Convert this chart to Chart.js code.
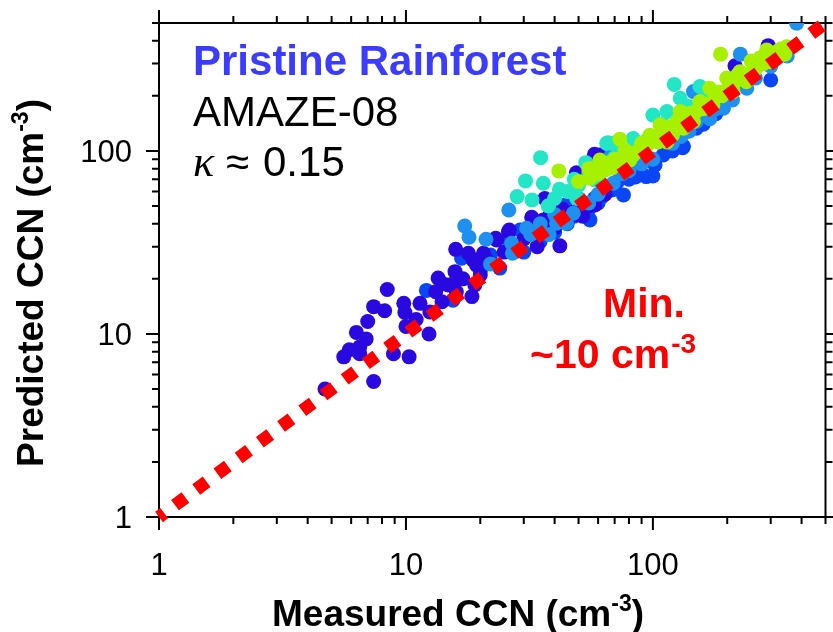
<!DOCTYPE html>
<html>
<head>
<meta charset="utf-8">
<script src="https://cdn.jsdelivr.net/npm/chart.js@4.4.1/dist/chart.umd.min.js"></script>
<style>
  html, body { margin: 0; padding: 0; background: #fff; }
  #wrap { width: 833px; height: 632px; }
</style>
</head>
<body>
<div id="wrap"><canvas id="myChart" width="833" height="632"></canvas></div>
<script>
// measured vs predicted CCN, one array per colour group  [measured, predicted]
const indigoPts = [[8.4,17.5],[7.4,14.1],[8.2,13.4],[9.8,14.7],[9.9,13.1],[11.4,14.7],[12.5,13.2],[7.0,11.7],[6.3,10.2],[6.9,9.4],[6.5,8.5],[5.9,8.2],[5.6,7.5],[6.5,7.8],[8.9,7.8],[10.3,7.5],[12.4,10.0],[7.4,5.5],[4.7,5.0],[13.5,20.2],[14.0,18.9],[14.8,18.5],[15.8,21.9],[16.0,19.7],[18.5,16.0],[15.9,29.0],[17.9,27.6],[18.7,25.4],[19.3,23.8],[20.6,27.6],[21.2,25.4],[19.0,18.5],[23.3,32.6],[26.0,36.2],[58,96],[49,76],[36.5,55],[26.2,37],[23.1,33.3],[42,30.3],[32.3,43.4],[215,292],[293,376],[61,95],[13.2,17.0],[38.3,44.7],[58.2,50.7],[47,46],[52,44],[55,50],[45,42],[40,38],[43,48],[50,45],[36,42],[30,33],[34,30],[25,28],[64,58],[20,21],[17,20],[14,15],[16,17],[11,12],[10,11]];
const bluePts = [[12.1,17.3],[15.5,15.3],[16.8,25.9],[24,22.9],[34.9,31.9],[29,37],[33.3,39.4],[44,50.7],[52.1,47.6],[55.6,42],[68.2,61.2],[76,57.5],[94,72.4],[88.6,78.7],[102,83.8],[132,104],[150,133],[300,244],[50,48],[60,52],[100,73],[133,106],[90,75],[30,28],[35,33],[40,36],[38,40],[45,40],[48,44],[55,48],[58,55],[62,56],[65,60],[70,62],[72,68],[80,70],[85,72],[110,95],[120,100],[160,140],[180,160],[28,30],[26,33],[20,22],[22,27]];
const lightBluePts = [[17.3,38.9],[18,33.8],[21.1,32.9],[22,24.1],[26.8,31.3],[27,27.6],[26.1,47.6],[30.8,37.8],[69.1,66.6],[68.1,97.1],[40.7,40.3],[44.7,40.3],[47.6,45.7],[226,338],[382,499],[193,171],[165,157],[146,211],[88.6,95.1],[107,115],[189,175],[120,110],[140,128],[170,150],[210,190],[100,90],[35,40],[40,45],[50,55],[55,52],[60,58],[75,75],[80,78],[90,85],[130,120],[150,145],[180,170],[240,220],[260,250],[300,290],[350,330],[32,35],[38,35]];
const cyanPts = [[35.1,91.9],[30.5,68.6],[36,66.6],[28.2,56.3],[41.8,61.8],[53.5,86.3],[37.7,50.1],[65.9,111],[49.1,55.2],[122,231],[65,110],[83.2,117],[100,157],[114,164],[129,194],[155,225],[67,87.4],[58.2,69.5],[73.5,83.8],[32.4,54],[62,80],[70,92],[78,100],[90,105],[69,110],[45,60],[50,65],[55,75],[60,72],[75,95],[85,100],[95,115],[105,120],[110,140],[140,175],[160,190],[40,55],[48,70]];
const greenPts = [[41.6,77.8],[73.5,116],[55.6,71],[63.9,78.7],[188,338],[289,356],[348,371],[342,338],[298,307],[77.1,101],[88.6,103],[107,139],[129,164],[155,186],[170,220],[199,250],[225,271],[255,295],[114,112],[146,145],[175,178],[211,211],[239,239],[97.2,122],[83.2,95.1],[133,133],[61,89.3],[68.2,80.7],[80.7,89.3],[271,322],[178,202],[120,125],[160,170],[190,200],[230,250],[260,280],[300,330],[320,350],[90,110],[110,128],[140,160],[120,122],[50,68],[55,80],[60,75],[65,85],[70,90],[75,88],[85,98],[95,108],[100,118],[105,112],[115,135],[125,145],[135,150],[150,165],[165,180],[185,210],[205,230],[215,240],[245,260],[280,300],[250,310],[290,330],[330,360],[220,260],[200,215]];

// 1:1 line
const oneToOne = [[1,1],[500,500]];

// axis ticks
const tickValues = [1,2,3,4,5,6,7,8,9,10,20,30,40,50,60,70,80,90,100,200,300,400,500];
const tickLabels = [1, 10, 100];

const toXY = arr => arr.map(p => ({x: p[0], y: p[1]}));

function dots(data, color, order) {
    return {
        data: toXY(data),
        backgroundColor: color,
        borderColor: color,
        borderWidth: 0,
        pointRadius: 7.5,
        order: order
    };
}

const fontSans = '"Liberation Sans", Arial, sans-serif';

// draws a string with a superscript part, centered on cx
function drawWithSup(ctx, before, sup, after, size, supSize, cx, base) {
    ctx.font = 'bold ' + size + 'px ' + fontSans;
    const w1 = ctx.measureText(before).width;
    const w3 = ctx.measureText(after).width;
    ctx.font = 'bold ' + supSize + 'px ' + fontSans;
    const w2 = ctx.measureText(sup).width;
    let x = cx - (w1 + w2 + w3) / 2;
    ctx.textAlign = 'left';
    ctx.textBaseline = 'alphabetic';
    ctx.font = 'bold ' + size + 'px ' + fontSans;
    ctx.fillText(before, x, base);
    x += w1;
    ctx.font = 'bold ' + supSize + 'px ' + fontSans;
    ctx.fillText(sup, x, base - size * 0.4);
    x += w2;
    ctx.font = 'bold ' + size + 'px ' + fontSans;
    ctx.fillText(after, x, base);
}

const frame = {
    id: 'frame',
    beforeDatasetsDraw(chart) {
        const {ctx, chartArea: a, scales: {x, y}} = chart;
        ctx.save();
        ctx.strokeStyle = '#000';
        ctx.lineWidth = 2;
        ctx.strokeRect(a.left, a.top, a.right - a.left, a.bottom - a.top);
        tickValues.forEach(v => {
            const len = tickLabels.includes(v) ? 13 : 7;
            const px = x.getPixelForValue(v);
            const py = y.getPixelForValue(v);
            ctx.beginPath();
            ctx.moveTo(px, a.bottom); ctx.lineTo(px, a.bottom + len);
            ctx.moveTo(px, a.top); ctx.lineTo(px, a.top - len);
            ctx.moveTo(a.left, py); ctx.lineTo(a.left - len, py);
            ctx.moveTo(a.right, py); ctx.lineTo(a.right + len, py);
            ctx.stroke();
        });

        // tick labels
        ctx.fillStyle = '#000';
        ctx.font = '31px ' + fontSans;
        ctx.textBaseline = 'alphabetic';
        tickLabels.forEach(v => {
            ctx.textAlign = 'center';
            ctx.fillText(String(v), x.getPixelForValue(v), 575);
            ctx.textAlign = 'right';
            ctx.fillText(String(v), 132, y.getPixelForValue(v) + 11);
        });

        // axis titles
        drawWithSup(ctx, 'Measured CCN (cm', '-3', ')', 37, 23, 458, 626);
        ctx.save();
        ctx.translate(43, 283);
        ctx.rotate(-Math.PI / 2);
        drawWithSup(ctx, 'Predicted CCN (cm', '-3', ')', 37, 23, 0, 0);
        ctx.restore();
        ctx.restore();
    },
    afterDraw(chart) {
        const ctx = chart.ctx;
        ctx.save();
        ctx.textAlign = 'left';
        ctx.textBaseline = 'alphabetic';

        ctx.fillStyle = '#3c3cff';
        ctx.font = 'bold 42px ' + fontSans;
        ctx.fillText('Pristine Rainforest', 193, 75);

        ctx.fillStyle = '#000';
        ctx.font = '42px ' + fontSans;
        ctx.fillText('AMAZE-08', 193, 126);
        ctx.font = 'italic 44px "Liberation Serif", "Times New Roman", serif';
        ctx.fillText('\u03ba', 193, 176);
        ctx.font = '42px ' + fontSans;
        ctx.fillText('\u2248', 226, 176);
        ctx.fillText('0.15', 263, 176);

        ctx.fillStyle = '#ff0000';
        ctx.font = 'bold 41px ' + fontSans;
        ctx.fillText('Min.', 603, 317);
        ctx.fillText('~10 cm', 530, 368);
        const w = ctx.measureText('~10 cm').width;
        ctx.font = 'bold 28px ' + fontSans;
        ctx.fillText('-3', 530 + w + 1, 353);
        ctx.restore();
    }
};

const ctx = document.getElementById('myChart').getContext('2d');

const data = {
    datasets: [
        {
            type: 'line',
            data: toXY(oneToOne),
            borderColor: '#ff0000',
            borderWidth: 13,
            borderDash: [13, 13.4],
            borderDashOffset: 6.5,
            borderCapStyle: 'butt',
            pointRadius: 0,
            fill: false,
            clip: false,
            order: 0
        },
        dots(greenPts, '#a6f000', 1),
        dots(cyanPts, '#22e6c6', 2),
        dots(lightBluePts, '#1e90f0', 3),
        dots(indigoPts, '#2a08e0', 4),
        dots(bluePts, '#0a46f5', 5)
    ]
};

const config = {
    type: 'scatter',
    data: data,
    options: {
        responsive: false,
        animation: false,
        layout: { padding: { left: 0, top: 23, right: 7, bottom: 0 } },
        plugins: {
            legend: { display: false },
            tooltip: { enabled: false }
        },
        scales: {
            x: {
                type: 'logarithmic',
                min: 1,
                max: 500,
                ticks: { display: false },
                grid: { display: false },
                border: { display: false },
                afterFit: s => { s.height = 115; }
            },
            y: {
                type: 'logarithmic',
                min: 1,
                max: 500,
                ticks: { display: false },
                grid: { display: false },
                border: { display: false },
                afterFit: s => { s.width = 159; }
            }
        }
    },
    plugins: [frame]
};

const myChart = new Chart(ctx, config);
</script>
</body>
</html>
